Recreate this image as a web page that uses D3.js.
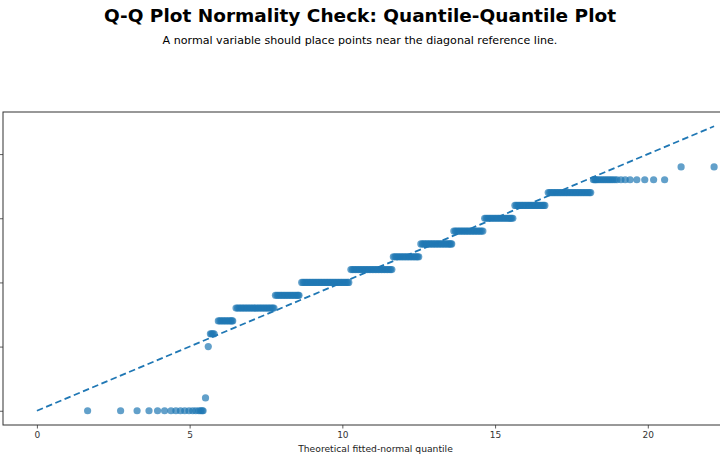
<!DOCTYPE html>
<html>
<head>
<meta charset="utf-8">
<script src="https://cdn.jsdelivr.net/npm/d3@7"></script>
<style>
  body { margin: 0; background: #fff; }
  svg { display: block; font-family: "DejaVu Sans", sans-serif; }
</style>
</head>
<body>
<div id="chart"></div>
<script>
// sample value of each step (y) and the theoretical quantiles plotted on it (x)
const levels = [0, 1, 5, 6, 7, 8, 9, 10, 11, 12, 13, 14, 15, 16, 17, 18, 19];
const quantiles = [
  [1.66, 2.74, 3.28, 3.67, 3.95, 4.18, 4.39, 4.55, 4.70, 4.84, 4.98, 5.10, 5.20, 5.30, 5.36, 5.41, 5.44],
  [5.52],
  [5.61],
  [5.68, 5.72, 5.76, 5.80],
  [5.94, 5.99, 6.04, 6.09, 6.14, 6.19, 6.24, 6.29, 6.34, 6.38, 6.41],
  [6.52, 6.57, 6.62, 6.67, 6.72, 6.77, 6.82, 6.87, 6.92, 6.97, 7.02, 7.07, 7.12, 7.17,
   7.22, 7.27, 7.32, 7.37, 7.42, 7.47, 7.52, 7.57, 7.62, 7.67, 7.72, 7.76],
  [7.81, 7.86, 7.91, 7.96, 8.01, 8.06, 8.11, 8.16, 8.21, 8.26, 8.31, 8.36, 8.41, 8.46, 8.51, 8.55, 8.58],
  [8.67, 8.72, 8.77, 8.82, 8.87, 8.92, 8.97, 9.02, 9.07, 9.12, 9.17, 9.22, 9.27, 9.32, 9.37, 9.42,
   9.47, 9.52, 9.57, 9.62, 9.67, 9.72, 9.77, 9.82, 9.87, 9.92, 9.97, 10.02, 10.07, 10.12, 10.17, 10.21],
  [10.28, 10.33, 10.38, 10.43, 10.48, 10.53, 10.58, 10.63, 10.68, 10.73, 10.78, 10.83, 10.88, 10.93,
   10.98, 11.03, 11.08, 11.13, 11.18, 11.23, 11.28, 11.33, 11.38, 11.43, 11.48, 11.53, 11.58, 11.62],
  [11.67, 11.72, 11.77, 11.82, 11.87, 11.92, 11.97, 12.02, 12.07, 12.12, 12.17, 12.22, 12.27, 12.32,
   12.37, 12.42, 12.46, 12.50],
  [12.57, 12.62, 12.67, 12.72, 12.77, 12.82, 12.87, 12.92, 12.97, 13.02, 13.07, 13.12, 13.17, 13.22,
   13.27, 13.32, 13.37, 13.42, 13.47, 13.51, 13.55, 13.58],
  [13.65, 13.70, 13.75, 13.80, 13.85, 13.90, 13.95, 14.00, 14.05, 14.10, 14.15, 14.20, 14.25, 14.30,
   14.35, 14.40, 14.45, 14.50, 14.55, 14.60],
  [14.66, 14.71, 14.76, 14.81, 14.86, 14.91, 14.96, 15.01, 15.06, 15.11, 15.16, 15.21, 15.26, 15.31,
   15.36, 15.41, 15.46, 15.50, 15.54, 15.58],
  [15.65, 15.70, 15.75, 15.80, 15.85, 15.90, 15.95, 16.00, 16.05, 16.10, 16.15, 16.20, 16.25, 16.30,
   16.35, 16.40, 16.45, 16.50, 16.55, 16.59, 16.63],
  [16.74, 16.79, 16.84, 16.89, 16.94, 16.99, 17.04, 17.09, 17.14, 17.19, 17.24, 17.29, 17.34, 17.39,
   17.44, 17.49, 17.54, 17.59, 17.64, 17.69, 17.74, 17.79, 17.84, 17.89, 17.94, 17.99, 18.04, 18.09, 18.13],
  [18.22, 18.26, 18.29, 18.32, 18.37, 18.43, 18.49, 18.55, 18.61, 18.67, 18.73, 18.79, 18.85, 18.92,
   18.99, 19.12, 19.26, 19.42, 19.64, 19.90, 20.19, 20.55],
  [21.09, 22.17]
];
// diagonal reference line y = x
const refLine = [0, 22.17];
const xTicks = [0, 5, 10, 15, 20];
const yTicks = [0, 5, 10, 15, 20];

const width = 720, height = 460;
const margin = {top: 112, left: 3, bottom: 35, right: -28}; // axes run past the right edge

const svg = d3.select("#chart")
  .append("svg")
    .attr("width", width)
    .attr("height", height);

const points = [];
levels.forEach((lv, i) => {
  quantiles[i].forEach(q => points.push({x: q, y: lv}));
});

const domain = [-1.11, 23.28];
const x = d3.scaleLinear()
  .domain(domain)
  .range([margin.left, width - margin.right]);
const y = d3.scaleLinear()
  .domain(domain)
  .range([height - margin.bottom, margin.top]);

// title + subtitle
svg.append("text")
  .attr("x", width / 2)
  .attr("y", 22)
  .attr("text-anchor", "middle")
  .style("font-size", "18.5px")
  .style("font-weight", "bold")
  .text("Q-Q Plot Normality Check: Quantile-Quantile Plot");

svg.append("text")
  .attr("x", width / 2)
  .attr("y", 44)
  .attr("text-anchor", "middle")
  .style("font-size", "11.1px")
  .text("A normal variable should place points near the diagonal reference line.");

// points
svg.append("g")
  .selectAll("circle")
  .data(points)
  .join("circle")
    .attr("cx", d => x(d.x))
    .attr("cy", d => y(d.y))
    .attr("r", 3.6)
    .attr("fill", "#1f77b4")
    .attr("fill-opacity", 0.7);

// reference line
svg.append("line")
  .attr("x1", x(refLine[0]))
  .attr("y1", y(refLine[0]))
  .attr("x2", x(refLine[1]))
  .attr("y2", y(refLine[1]))
  .attr("stroke", "#1f77b4")
  .attr("stroke-width", 1.8)
  .attr("stroke-dasharray", "6.5,3.5");

// axes (y tick labels fall left of the visible area, as in the source)
const xAxis = svg.append("g")
  .attr("transform", `translate(0,${height - margin.bottom})`)
  .call(d3.axisBottom(x).tickValues(xTicks).tickSize(3.5).tickPadding(3));
const yAxis = svg.append("g")
  .attr("transform", `translate(${margin.left},0)`)
  .call(d3.axisLeft(y).tickValues(yTicks).tickSize(3.5).tickFormat(""));

[xAxis, yAxis].forEach(g => {
  g.select(".domain").remove();
  g.selectAll("line").attr("stroke", "#333").attr("stroke-width", 0.8);
  g.selectAll("text").style("font-size", "9px").style("font-family", "DejaVu Sans").attr("fill", "#333");
});

// frame
svg.append("rect")
  .attr("x", margin.left)
  .attr("y", margin.top)
  .attr("width", width - margin.right - margin.left)
  .attr("height", height - margin.bottom - margin.top)
  .attr("fill", "none")
  .attr("stroke", "#333")
  .attr("stroke-width", 1);

svg.append("text")
  .attr("x", (margin.left + width - margin.right) / 2)
  .attr("y", 452)
  .attr("text-anchor", "middle")
  .style("font-size", "9.2px")
  .attr("fill", "#222")
  .text("Theoretical fitted-normal quantile");
</script>
</body>
</html>
